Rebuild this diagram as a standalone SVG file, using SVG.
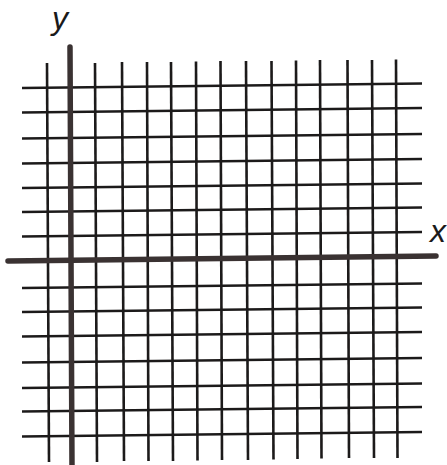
<svg xmlns="http://www.w3.org/2000/svg" width="447" height="465" viewBox="0 0 447 465">
<style>
.g{stroke:#1c1a1a;stroke-width:2.6;fill:none}
.ax{stroke:#3a3232;stroke-width:5.5;fill:none;stroke-linecap:round}
.lbl{font-family:"Liberation Sans",Arial,sans-serif;font-style:italic;font-size:32px;fill:#1a1a1a}
</style>
<rect width="447" height="465" fill="#ffffff"/>
<g id="grid">
<g id="horizontal">
<line class="g" x1="22" y1="88" x2="422" y2="83.5"/>
<line class="g" x1="22" y1="112.5" x2="422" y2="108"/>
<line class="g" x1="22" y1="138.5" x2="422" y2="134"/>
<line class="g" x1="22" y1="163.5" x2="422" y2="159"/>
<line class="g" x1="22" y1="188" x2="422" y2="183.5"/>
<line class="g" x1="22" y1="212" x2="422" y2="207.5"/>
<line class="g" x1="22" y1="236.5" x2="422" y2="232"/>
<line class="g" x1="22" y1="288" x2="422" y2="283.5"/>
<line class="g" x1="22" y1="312" x2="422" y2="307.5"/>
<line class="g" x1="22" y1="336.5" x2="422" y2="332"/>
<line class="g" x1="22" y1="362.5" x2="422" y2="358"/>
<line class="g" x1="22" y1="388" x2="422" y2="383.5"/>
<line class="g" x1="22" y1="411.5" x2="422" y2="407"/>
<line class="g" x1="22" y1="436.5" x2="422" y2="432"/>
</g>
<g id="vertical">
<line class="g" x1="47" y1="63" x2="49" y2="462"/>
<line class="g" x1="95" y1="63" x2="97" y2="462"/>
<line class="g" x1="122" y1="62" x2="124" y2="461"/>
<line class="g" x1="147" y1="62" x2="148.5" y2="461"/>
<line class="g" x1="171" y1="62" x2="173" y2="461"/>
<line class="g" x1="196" y1="61.5" x2="197.5" y2="460.5"/>
<line class="g" x1="220.5" y1="61" x2="222" y2="460"/>
<line class="g" x1="246" y1="61" x2="248" y2="460"/>
<line class="g" x1="271.5" y1="61" x2="273.5" y2="459.5"/>
<line class="g" x1="296" y1="60.5" x2="297.5" y2="459"/>
<line class="g" x1="320" y1="60" x2="321.5" y2="458.5"/>
<line class="g" x1="347.5" y1="60" x2="349" y2="458"/>
<line class="g" x1="372" y1="60" x2="374" y2="458"/>
<line class="g" x1="396" y1="59.5" x2="397.5" y2="458"/>
</g>
</g>
<g id="axes">
<line id="x-axis" class="ax" x1="8" y1="261" x2="436" y2="256"/>
<line id="y-axis" class="ax" x1="70" y1="47" x2="72" y2="468"/>
</g>
<g id="labels">
<text id="y-label" class="lbl" x="52" y="29">y</text>
<text id="x-label" class="lbl" x="430" y="242">x</text>
</g>
</svg>
